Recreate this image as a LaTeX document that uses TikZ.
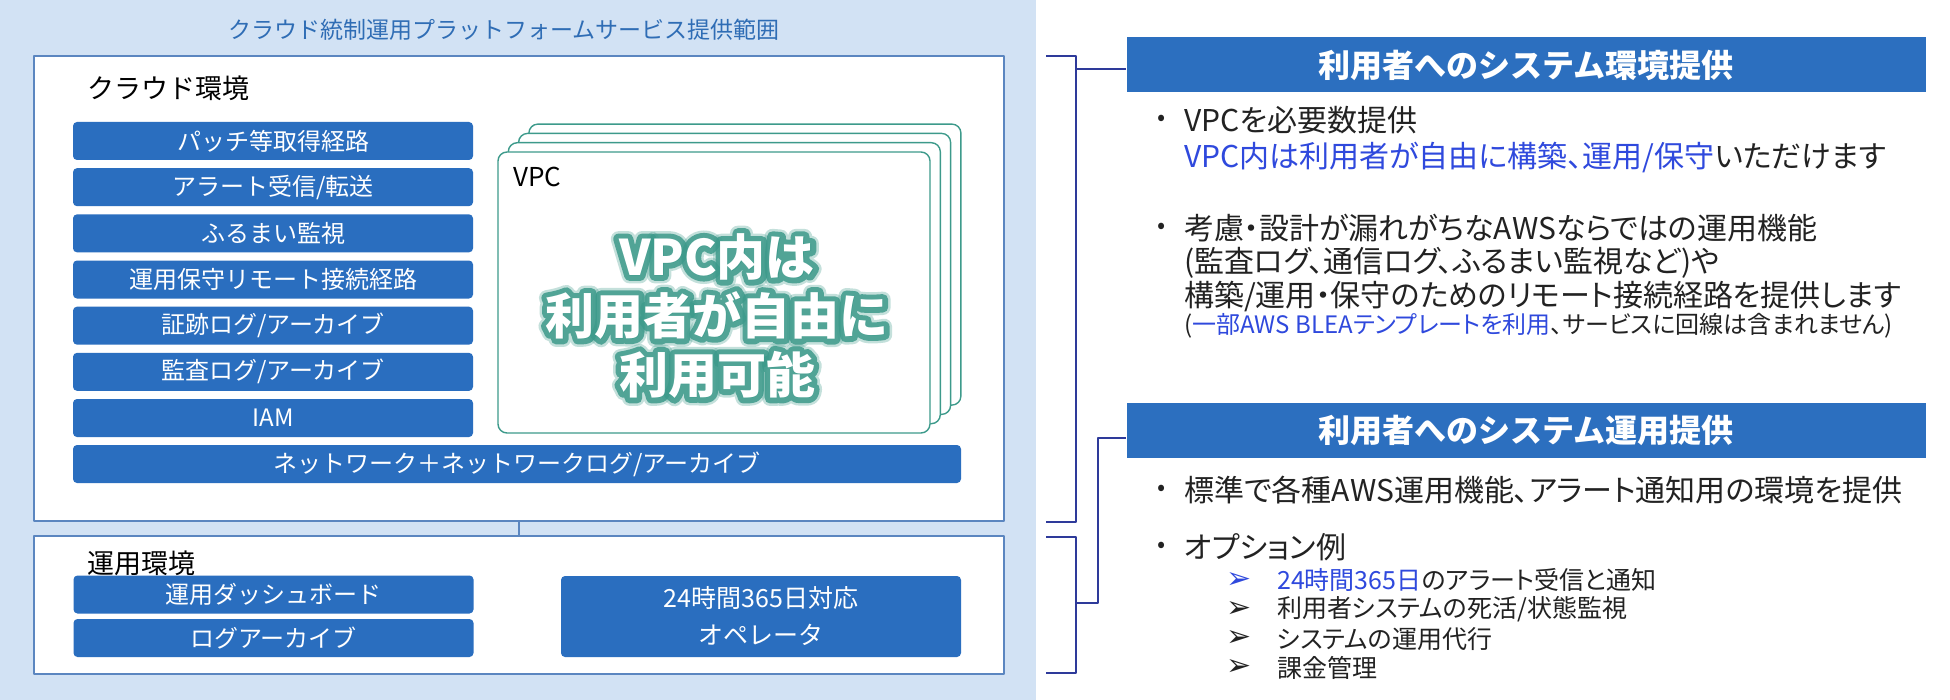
\documentclass[tikz,border=0pt]{standalone}
\usepackage{fontspec}
\setmainfont{Noto Sans CJK JP}
\newfontfamily\jppalt[RawFeature=+palt]{Noto Sans CJK JP}
\newfontfamily\glowfont[FakeBold=22]{Noto Sans CJK JP}
\newfontfamily\halofont[FakeBold=32]{Noto Sans CJK JP}
\newfontfamily\dingfont{DejaVu Sans}
\usetikzlibrary{positioning}

\definecolor{panelblue}{HTML}{D2E2F4}
\definecolor{titleblue}{HTML}{2F6DB5}
\definecolor{envline}{HTML}{5B86C0}
\definecolor{itemblue}{HTML}{2A6EBF}
\definecolor{headblue}{HTML}{2C6FBF}
\definecolor{vpcteal}{HTML}{3D9A8B}
\definecolor{bracketnavy}{HTML}{2E3A9A}
\definecolor{hiblue}{HTML}{2F49DD}
\definecolor{bodygray}{HTML}{222222}

\newcommand\fsz[2]{\fontsize{#1}{#2}\selectfont}
\newcommand\vpcmsg{VPC内は\\利用者が自由に\\利用可能}

\tikzset{
  envbox/.style={draw=envline, line width=1.4pt, fill=white, inner sep=0pt},
  envlabel/.style={anchor=west, inner sep=0pt, font=\fsz{27}{30}},
  itembox/.style={fill=itemblue, rounded corners=4pt, text=white, font=\fsz{24}{28},
    minimum width=400pt, minimum height=38pt, inner sep=0pt, align=center},
  vpccard/.style={draw=vpcteal, line width=1.4pt, fill=white, rounded corners=9pt,
    minimum width=432pt, minimum height=281pt, inner sep=0pt},
  vpcbig/.style={align=center, inner sep=0pt, font=\fsz{49}{59}\bfseries},
  headbox/.style={fill=headblue, text=white, font=\fsz{32}{36}\bfseries,
    minimum width=799pt, minimum height=55pt, inner sep=0pt},
  bline/.style={draw=bracketnavy, line width=1.5pt},
  bodytext/.style={anchor=west, inner sep=0pt, text=bodygray, font=\jppalt\fsz{30}{35}},
  bulletdot/.style={inner sep=0pt, text=bodygray, font=\fsz{24}{28}},
  subtext/.style={anchor=west, inner sep=0pt, text=bodygray, font=\jppalt\fsz{25}{30}},
  subarrow/.style={inner sep=0pt, text=bodygray, font=\dingfont\fsz{30}{32}},
}

\begin{document}
\begin{tikzpicture}[x=1pt, y=-1pt, line join=round]
  \useasboundingbox (0,0) rectangle (1950,700);
  \fill[white] (0,0) rectangle (1950,700);
  \fill[panelblue] (0,0) rectangle (1036,700);

  % left panel
  \node[text=titleblue, font=\fsz{23}{27}] (scopetitle) at (504,30)
    {クラウド統制運用プラットフォームサービス提供範囲};

  \node[envbox, minimum width=970pt, minimum height=465pt] (cloud) at (519,288.5) {};
  \node[envbox, minimum width=970pt, minimum height=138pt] (ops) at (519,605) {};
  \draw[envline, line width=1.4pt] (cloud.south) -- (ops.north);

  \node[envlabel] (cloudlabel) at (87,88) {クラウド環境};
  \node[envlabel] (opslabel) at (87,563) {運用環境};

  \foreach \lab [count=\i from 0] in {パッチ等取得経路, アラート受信/転送, ふるまい監視,
      運用保守リモート接続経路, 証跡ログ/アーカイブ, 監査ログ/アーカイブ, IAM}
    \node[itembox] (item\i) at (273,{141+46.17*\i}) {\lab};
  \node[itembox, minimum width=888pt] (network) at (517,464)
    {ネットワーク＋ネットワークログ/アーカイブ};

  % stacked VPC cards
  \foreach \k in {3,2,1}
    \node[vpccard] (vpcback\k) at ({714+10.3*\k},{292.5-9.3*\k}) {};
  \node[vpccard] (vpc) at (714,292.5) {};
  \node[anchor=west, inner sep=0pt, font=\fsz{26}{30}] (vpclabel) at (513,177) {VPC};
  \node[vpcbig, text=vpcteal, opacity=0.3, font=\halofont\fsz{49}{59}\bfseries] (vpchalo) at (717,316) {\vpcmsg};
  \node[vpcbig, text=vpcteal, opacity=0.85, font=\glowfont\fsz{49}{59}\bfseries] (vpcglow) at (717,316) {\vpcmsg};
  \node[vpcbig, text=white] (vpcmsg) at (717,316) {\vpcmsg};

  \node[itembox] (dashboard) at (273.5,594.5) {運用ダッシュボード};
  \node[itembox] (logarchive) at (273.5,638) {ログアーカイブ};
  \node[itembox, minimum height=81pt, font=\fsz{25}{37}] (operator) at (761,616.5)
    {24時間365日対応\\オペレータ};

  % right side
  \node[headbox] (head1) at (1526,65) {利用者へのシステム環境提供};
  \node[headbox] (head2) at (1526,430) {利用者へのシステム運用提供};

  \coordinate (br1top) at (1046,56);
  \coordinate (br1bot) at (1046,522);
  \coordinate (j1) at (1076,69);
  \draw[bline] (br1top) -- ++(30,0) |- (br1bot);
  \draw[bline] (j1) -- (j1 -| head1.west);

  \coordinate (br2top) at (1046,537);
  \coordinate (br2bot) at (1046,673);
  \coordinate (j2) at (1076,603);
  \coordinate (j2b) at (1098,438);
  \draw[bline] (br2top) -- ++(30,0) |- (br2bot);
  \draw[bline] (j2) -| (j2b) -- (j2b -| head2.west);

  \node[bulletdot] (dot1) at (1162,120) {•};
  \node[bodytext] (b1a) at (1184,120) {VPCを必要数提供};
  \node[bodytext] (b1b) at (1184,157)
    {\textcolor{hiblue}{VPC内は利用者が自由に構築、運用/保守}いただけます};

  \node[bulletdot] (dot2) at (1162,228) {•};
  \node[bodytext] (b2a) at (1184,228) {考慮・設計が漏れがちなAWSならではの運用機能};
  \node[bodytext] (b2b) at (1184,263) {(監査ログ、通信ログ、ふるまい監視など)や};
  \node[bodytext] (b2c) at (1184,297) {構築/運用・保守のためのリモート接続経路を提供します};
  \node[bodytext, font=\jppalt\fsz{24}{28}] (b2d) at (1184,326)
    {(\textcolor{hiblue}{一部AWS BLEAテンプレートを利用}、サービスに回線は含まれません)};

  \node[bulletdot] (dot3) at (1162,490) {•};
  \node[bodytext] (b3) at (1184,490) {標準で各種AWS運用機能、アラート通知用の環境を提供};

  \node[bulletdot] (dot4) at (1162,547) {•};
  \node[bodytext] (b4) at (1184,547) {オプション例};

  \node[subarrow, text=hiblue] (arr1) at (1239,580) {➢};
  \node[subtext] (opt1) at (1277,580) {\textcolor{hiblue}{24時間365日}のアラート受信と通知};
  \foreach \txt [count=\j from 2] in {利用者システムの死活/状態監視, システムの運用代行, 課金管理} {
    \node[subarrow] (arr\j) at (1239,{580+29.3*(\j-1)}) {➢};
    \node[subtext] (opt\j) at (1277,{580+29.3*(\j-1)}) {\txt};
  }
\end{tikzpicture}
\end{document}
